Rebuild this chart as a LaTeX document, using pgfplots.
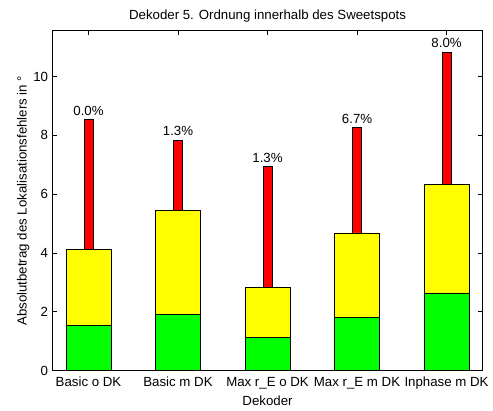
\documentclass[border=0pt]{standalone}
\usepackage{fontspec}
\setmainfont{Liberation Sans}
\usepackage{pgfplots}
\pgfplotsset{compat=1.18}
\definecolor{mgreen}{RGB}{0,255,0}
\definecolor{myellow}{RGB}{255,255,0}
\definecolor{mred}{RGB}{255,0,0}
\begin{document}
\begin{tikzpicture}
\begin{axis}[
  at={(0pt,0pt)}, anchor=origin,
  scale only axis,
  width=324pt, height=256.1pt,
  xmin=0.6, xmax=5.4, ymin=0, ymax=11.55,
  xtick={1,2,3,4,5},
  xticklabels={Basic o DK,Basic m DK,Max r\_E o DK,Max r\_E m DK,Inphase m DK},
  ytick={0,2,4,6,8,10},
  tick align=inside,
  major tick length=3pt,
  tick style={black, line width=0.5pt},
  axis line style={line width=0.6pt},
  /pgf/number format/assume math mode=true,
  ticklabel style={font=\fontsize{10}{12}\selectfont},
  xticklabel style={yshift=-1.5pt},
  title={Dekoder 5. Ordnung innerhalb des Sweetspots},
  title style={font=\fontsize{10}{12}\selectfont, yshift=-3pt},
  xlabel={Dekoder},
  ylabel={Absolutbetrag des Lokalisationsfehlers in °},
  label style={font=\fontsize{10}{12}\selectfont},
  xlabel style={yshift=2pt},
  ylabel style={yshift=-4pt},
  clip=false,
]
\addplot[ybar, bar width=0.1, bar shift=0pt, fill=mred, draw=black, line width=0.5pt,
  point meta=explicit symbolic,
  nodes near coords, nodes near coords align={vertical},
  every node near coord/.append style={font=\fontsize{10}{12}\selectfont, black, inner sep=3pt}]
  coordinates {(1,8.53) [0.0\%] (2,7.83) [1.3\%] (3,6.94) [1.3\%] (4,8.26) [6.7\%] (5,10.83) [8.0\%]};
\addplot[ybar, bar width=0.5, bar shift=0pt, fill=myellow, draw=black, line width=0.5pt]
  coordinates {(1,4.13) (2,5.45) (3,2.84) (4,4.68) (5,6.33)};
\addplot[ybar, bar width=0.5, bar shift=0pt, fill=mgreen, draw=black, line width=0.5pt]
  coordinates {(1,1.53) (2,1.90) (3,1.12) (4,1.80) (5,2.64)};
\end{axis}
\path[use as bounding box] (-39.75pt,-27.4pt) rectangle (330pt,279.4pt);
\end{tikzpicture}
\end{document}
